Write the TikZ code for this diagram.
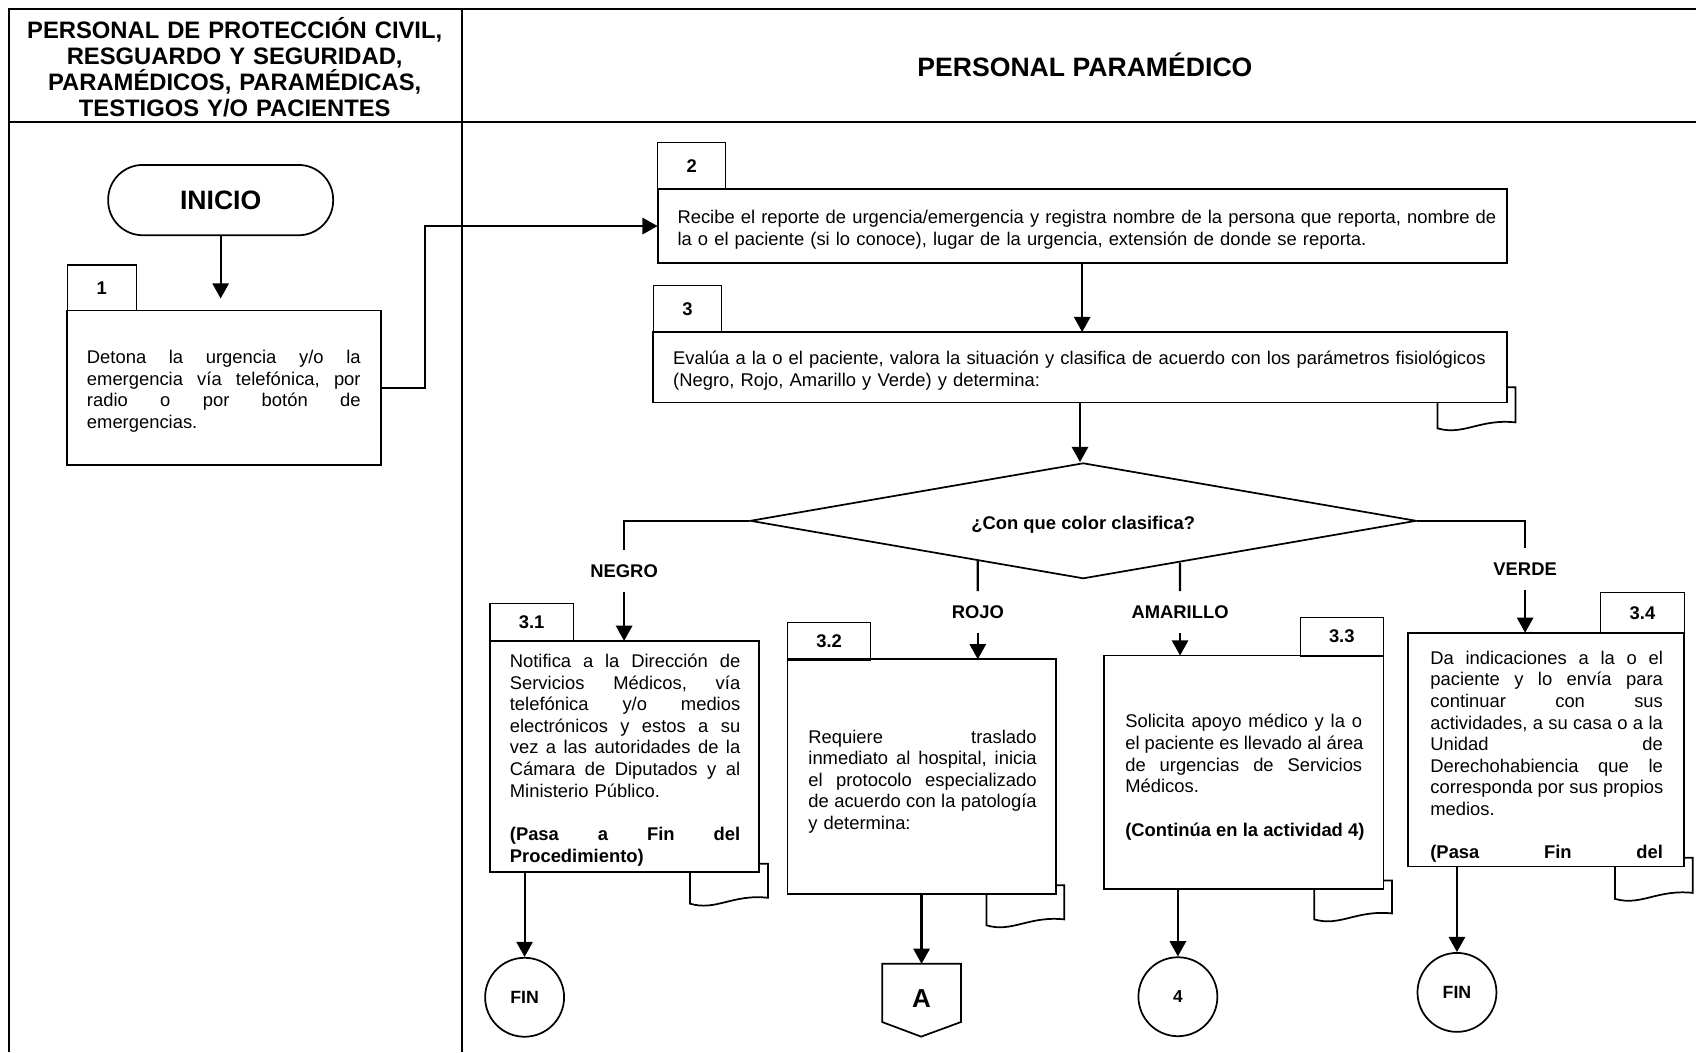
\documentclass[tikz,border=0pt]{standalone}
\usepackage{fontspec}
\setmainfont{Liberation Sans}
\usetikzlibrary{arrows.meta,shapes.geometric,calc}

% one fully justified line of a fixed-width paragraph
\newcommand{\jline}[1]{\leavevmode\hbox to\linewidth{\frenchspacing\spaceskip=0.278em plus 1fil\relax #1}}

% the folded "document" corner that peeks out below an activity box:
% #1 box, #2 how far above the box bottom it starts, #3 depth of its lower edge
\newcommand{\docflag}[3]{%
  \begin{scope}[shift={(#1.south east)}]
    \draw[flagline] (-64,0) -- (-64,#3)
      .. controls (-40,#3+7) and (-25,#3-9) .. (8,#3-5.5) -- (8,-#2) -- (0,-#2);
  \end{scope}}

\tikzset{
  lane/.style={line width=1pt},
  actbox/.style={draw, line width=0.8pt, inner sep=0pt, outer sep=0pt},
  numtab/.style={draw, line width=0.5pt, inner sep=0pt, outer sep=0pt,
    font=\bfseries\fontsize{8.5}{10}\selectfont},
  body/.style={anchor=base west, inner sep=0pt, align=left,
    font=\fontsize{8.5}{10}\selectfont},
  lbl/.style={inner sep=0pt, minimum height=19pt,
    font=\bfseries\fontsize{8.5}{10}\selectfont},
  arr/.style={line width=1pt, -{Triangle[length=7pt,width=7.5pt]}},
  conn/.style={line width=1pt},
  flagline/.style={line width=0.8pt},
  term/.style={circle, draw, line width=0.8pt, minimum size=36.5pt,
    inner sep=0pt, font=\bfseries\fontsize{8.2}{10}\selectfont},
}

\begin{document}
\begin{tikzpicture}[x=0.5pt,y=-0.5pt]
\useasboundingbox (0,0) rectangle (1568,973);

% swim-lane frame
\draw[lane] (8,973) -- (8,8) -- (1568,8);
\draw[lane] (8,113) -- (1568,113);
\draw[lane] (427,8) -- (427,973);

\node[anchor=base, inner sep=0pt, text width=200pt, align=center,
      font=\bfseries\fontsize{11}{12}\selectfont] (hleft) at (217,35.5)
  {PERSONAL DE PROTECCIÓN CIVIL,\\ RESGUARDO Y SEGURIDAD,\\
   PARAMÉDICOS, PARAMÉDICAS,\\ TESTIGOS Y/O PACIENTES};
\node[anchor=base, inner sep=0pt, font=\bfseries\fontsize{12.3}{14}\selectfont]
  (hright) at (1003,71) {PERSONAL PARAMÉDICO};

% start
\node[draw, line width=0.8pt, rounded corners=16pt, minimum width=104pt,
      minimum height=32.5pt, inner sep=0pt,
      font=\bfseries\fontsize{12.3}{14}\selectfont] (ini) at (204,185) {INICIO};

% activity 1
\node[numtab, minimum width=32pt, minimum height=21pt] (n1) at (94,266) {1};
\node[actbox, minimum width=145pt, minimum height=71.5pt] (b1) at (207,358.5) {};
\node[body, text width=126.5pt] (x1) at (80,336)
  {\jline{Detona la urgencia y/o la}\\
   \jline{emergencia vía telefónica, por}\\
   \jline{radio o por botón de}\\
   emergencias.};

% activity 2
\node[numtab, minimum width=31.5pt, minimum height=21.5pt] (n2) at (639.5,153.5) {2};
\node[actbox, minimum width=392.5pt, minimum height=34pt] (b2) at (1000.5,209) {};
\node[body, text width=420pt] (x2) at (626,207)
  {Recibe el reporte de urgencia/emergencia y registra nombre de la persona que reporta, nombre de\\
   la o el paciente (si lo conoce), lugar de la urgencia, extensión de donde se reporta.};

% activity 3
\node[numtab, minimum width=31.5pt, minimum height=21.5pt] (n3) at (635.5,285.5) {3};
\node[actbox, minimum width=394.5pt, minimum height=32.5pt] (b3) at (998.5,339.5) {};
\docflag{b3}{14}{24}
\node[body, text width=420pt] (x3) at (622,337)
  {Evalúa a la o el paciente, valora la situación y clasifica de acuerdo con los parámetros fisiológicos\\
   (Negro, Rojo, Amarillo y Verde) y determina:};

% decision
\node[diamond, draw, line width=0.8pt, aspect=5.7, inner sep=0pt,
      minimum width=308pt, minimum height=53.5pt, text height=8pt, text depth=0.3pt,
      font=\bfseries\fontsize{8.5}{10}\selectfont] (dia) at (1001.5,481.5)
  {¿Con que color clasifica?};

\node[lbl] (lneg) at (577,528) {NEGRO};
\node[lbl] (lroj) at (904,566) {ROJO};
\node[lbl] (lama) at (1091,566) {AMARILLO};
\node[lbl] (lver) at (1410,526) {VERDE};
\coordinate (rtop) at (intersection of dia.west--dia.south and lroj.north--lroj.south);
\coordinate (atop) at (intersection of dia.south--dia.east and lama.north--lama.south);

% activity 3.1
\node[numtab, minimum width=38.5pt, minimum height=17.5pt] (n31) at (491.5,575.5) {3.1};
\node[actbox, minimum width=124.5pt, minimum height=107pt] (b31) at (577.5,699.5) {};
\docflag{b31}{8}{29}
\node[body, text width=106.5pt] (x31) at (471,617)
  {\jline{Notifica a la Dirección de}\\
   \jline{Servicios Médicos, vía}\\
   \jline{telefónica y/o medios}\\
   \jline{electrónicos y estos a su}\\
   \jline{vez a las autoridades de la}\\
   \jline{Cámara de Diputados y al}\\
   Ministerio Público.\\ \mbox{}\\
   \jline{\bfseries (Pasa a Fin del}\\
   \textbf{Procedimiento)}};

% activity 3.2
\node[numtab, minimum width=38.5pt, minimum height=17.5pt] (n32) at (766.5,593) {3.2};
\node[actbox, minimum width=124pt, minimum height=108.5pt] (b32) at (852,718) {};
\docflag{b32}{8}{29}
\node[body, text width=105.5pt] (x32) at (747,687)
  {\jline{Requiere traslado}\\
   \jline{inmediato al hospital, inicia}\\
   \jline{el protocolo especializado}\\
   \jline{de acuerdo con la patología}\\
   y determina:};

% activity 3.3
\node[numtab, minimum width=38.5pt, minimum height=18pt] (n33) at (1240.5,588.5) {3.3};
\node[actbox, minimum width=129pt, minimum height=108pt] (b33) at (1150,714) {};
\docflag{b33}{8}{28}
\node[body, text width=109.5pt] (x33) at (1040,673)
  {\jline{Solicita apoyo médico y la o}\\
   \jline{el paciente es llevado al área}\\
   \jline{de urgencias de Servicios}\\
   Médicos.\\ \mbox{}\\
   \jline{\bfseries (Continúa en la actividad 4)}};

% activity 3.4
\node[numtab, minimum width=38.5pt, minimum height=19pt] (n34) at (1518.5,566.5) {3.4};
\node[actbox, minimum width=127.5pt, minimum height=108pt] (b34) at (1429.5,693) {};
\docflag{b34}{8}{30}
\node[body, text width=107.5pt] (x34) at (1322,614)
  {\jline{Da indicaciones a la o el}\\
   \jline{paciente y lo envía para}\\
   \jline{continuar con sus}\\
   \jline{actividades, a su casa o a la}\\
   \jline{Unidad de}\\
   \jline{Derechohabiencia que le}\\
   \jline{corresponda por sus propios}\\
   medios.\\ \mbox{}\\
   \jline{\bfseries (Pasa Fin del}};

% terminators and connectors
\node[term] (fin1) at (485,922) {FIN};
\node[inner sep=0pt, minimum width=36pt, minimum height=26.5pt,
      text height=13.4pt, text depth=0pt,
      font=\bfseries\fontsize{12}{14}\selectfont] (conA) at (852,918) {A};
\draw[actbox] (conA.north west) -- (conA.south west) -- ++(36,13.5)
  -- (conA.south east) -- (conA.north east) -- cycle;
\node[term, font=\bfseries\fontsize{8}{10}\selectfont] (c4) at (1089,921.5) {4};
\node[term] (fin2) at (1347,917.5) {FIN};

% flow
\draw[arr, shorten >=5.5pt] (ini.south) -- (ini.south |- b1.north);
\draw[arr] (b1.east) -- ++(41,0) |- (b2.west);
\draw[arr] (b2.south) -- (b2.south |- b3.north);
\draw[arr] (b3.south) -- (b3.south |- dia.north);
\draw[conn] (dia.west) -| (lneg.north);
\draw[arr] (lneg.south) -- (lneg.south |- b31.north);
\draw[conn] (rtop) -- (lroj.north);
\draw[arr] (lroj.south) -- (lroj.south |- b32.north);
\draw[conn] (atop) -- (lama.north);
\draw[arr] (lama.south) -- (lama.south |- b33.north);
\draw[conn] (dia.east) -| (lver.north);
\draw[arr] (lver.south) -- (lver.south |- b34.north);
\draw[arr] (b31.south -| fin1.north) -- (fin1.north);
\draw[arr] (b32.south) -- (conA.north);
\draw[arr] (b33.south -| c4.north) -- (c4.north);
\draw[arr] (b34.south -| fin2.north) -- (fin2.north);
\end{tikzpicture}
\end{document}
